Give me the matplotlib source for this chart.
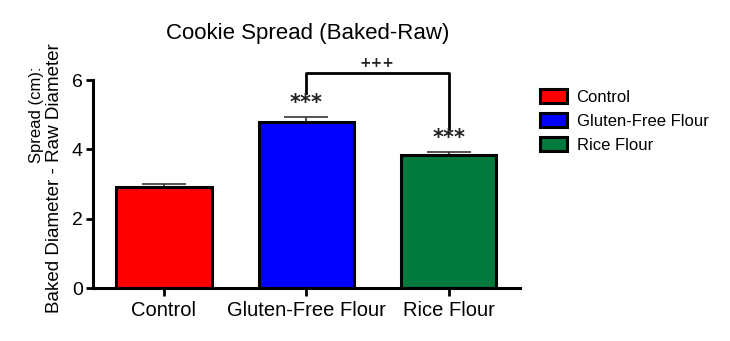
import numpy as np
import matplotlib.pyplot as plt

plt.rcParams['font.family'] = ['Liberation Sans', 'DejaVu Sans']

# data
groups = ['Control', 'Gluten-Free Flour', 'Rice Flour']
spread = [2.91, 4.80, 3.84]
sem = [0.08, 0.13, 0.08]
colors = ['#ff0000', '#0000ff', '#007a3d']

fig = plt.figure(figsize=(7.3, 3.41), dpi=100)
ax = fig.add_axes([0.127, 0.155, 0.585, 0.61])

x = np.arange(len(groups))
ax.bar(x, spread, width=0.67, color=colors, edgecolor='black', linewidth=2.2,
       label=groups, zorder=2)
ax.errorbar(x, spread, yerr=[np.zeros(3), sem], fmt='none', ecolor='#333333',
            elinewidth=1.2, capsize=16, capthick=1.2, zorder=1)

# significance marks
for i in [1, 2]:
    ax.text(x[i], spread[i] + sem[i] + 0.42, '***', ha='center', va='center',
            fontsize=15, fontweight='bold', family='DejaVu Sans',
            color='#222222')
ax.plot([x[1], x[1], x[2], x[2]], [5.62, 6.2, 6.2, 4.6], color='black',
        lw=2, clip_on=False)
ax.text((x[1] + x[2]) / 2, 6.48, '+++', ha='center', va='center',
        fontsize=10, fontweight='bold', family='DejaVu Sans', color='#222222')

ax.set_xlim(-0.5, 2.5)
ax.set_ylim(0, 6)
ax.set_yticks([0, 2, 4, 6])
ax.set_xticks(x)
ax.set_xticklabels(groups, fontsize=14.5)
ax.tick_params(axis='y', labelsize=14, width=2, length=5, pad=2)
ax.tick_params(axis='x', width=2, length=6)
for s in ['top', 'right']:
    ax.spines[s].set_visible(False)
ax.spines['left'].set_linewidth(2.2)
ax.spines['bottom'].set_linewidth(2.2)

# two-line y label
fig.text(36 / 730, 1 - 115 / 341, 'Spread (cm):', rotation=90, ha='center',
         va='center', fontsize=12)
fig.text(55 / 730, 1 - 178 / 341, 'Baked Diameter - Raw Diameter', rotation=90,
         ha='center', va='center', fontsize=13.5)

fig.text(308 / 730, 1 - 33 / 341, 'Cookie Spread (Baked-Raw)', ha='center',
         va='center', fontsize=16)

leg = ax.legend(loc='upper left', bbox_to_anchor=(1.012, 1.03), frameon=False,
                fontsize=12, handlelength=1.6, handleheight=0.9,
                labelspacing=0.5, handletextpad=0.6)

fig.savefig('out.png', dpi=100)
